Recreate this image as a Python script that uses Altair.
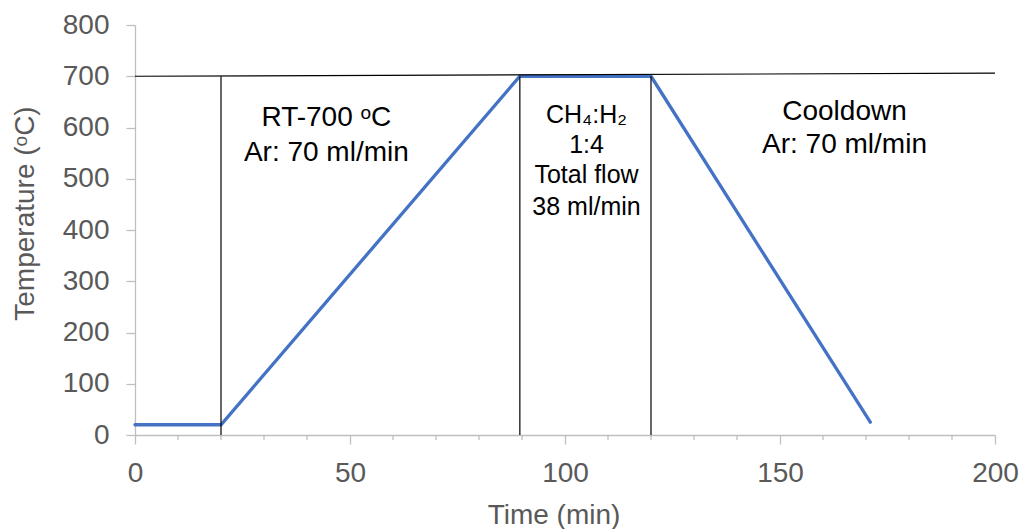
import altair as alt
import pandas as pd

# Temperature profile (blue line)
time_min = [0, 20, 89.5, 120, 171]
temp_c = [20, 20, 700, 700, 25]

# Black step boundaries (vertical lines)
step_x = [20, 89.5, 120]
step_y_low = [0, 0, 0]
step_y_high = [700, 700, 700]

# Black horizontal reference line at ~700
ref_x = [0, 200]
ref_y = [700, 706]

# Axis ticks
x_major = [0, 50, 100, 150, 200]
x_minor = [10, 20, 30, 40, 60, 70, 80, 90, 110, 120, 130, 140, 160, 170, 180, 190]
y_ticks = [0, 100, 200, 300, 400, 500, 600, 700, 800]

# Annotations
ann_text = ["RT-700 ᵒC", "Ar: 70 ml/min", "CH₄:H₂", "1:4", "Total flow", "38 ml/min",
            "Cooldown", "Ar: 70 ml/min"]
ann_x = [44.5, 44.5, 105, 105, 105, 105, 165, 165]
ann_y = [602, 535, 609, 551, 492, 429, 615, 550]
ann_size = [28, 28, 25, 25, 25, 25, 28, 28]

FONT = "Liberation Sans"
AXIS_GRAY = "#bfbfbf"
LABEL_GRAY = "#595959"

xscale = alt.Scale(domain=[0, 200], nice=False, zero=False)
yscale = alt.Scale(domain=[0, 800], nice=False)

profile = pd.DataFrame({"t": time_min, "T": temp_c})
steps = pd.DataFrame({"x": step_x, "y0": step_y_low, "y1": step_y_high})
ref = pd.DataFrame({"x": [ref_x[0]], "x2": [ref_x[1]], "y": [ref_y[0]], "y2": [ref_y[1]]})
minor = pd.DataFrame({"x": x_minor})
ann = pd.DataFrame({"text": ann_text, "x": ann_x, "y": ann_y, "size": ann_size})

x_axis = alt.Axis(values=x_major, title="Time (min)", tickSize=9, grid=False, labelFlush=False,
                  domainColor=AXIS_GRAY, tickColor=AXIS_GRAY, domainWidth=1.3, tickWidth=1.3,
                  labelFont=FONT, labelFontSize=28, labelColor=LABEL_GRAY, labelPadding=15,
                  titleFont=FONT, titleFontSize=28, titleColor=LABEL_GRAY, titleFontWeight="normal",
                  titleX=418.5, titleY=88, titleBaseline="alphabetic", titleAlign="center")
y_axis = alt.Axis(values=y_ticks, title="Temperature (ᵒC)", tickSize=9, grid=False, labelFlush=False,
                  domainColor=AXIS_GRAY, tickColor=AXIS_GRAY, domainWidth=1.3, tickWidth=1.3,
                  labelFont=FONT, labelFontSize=28, labelColor=LABEL_GRAY, labelPadding=17,
                  titleFont=FONT, titleFontSize=28, titleColor=LABEL_GRAY, titleFontWeight="normal",
                  titleX=-102, titleY=188, titleBaseline="alphabetic", titleAlign="center")

line = alt.Chart(profile).mark_line(color="#4472C4", strokeWidth=3.3, strokeCap="round").encode(
    x=alt.X("t:Q", scale=xscale, axis=x_axis),
    y=alt.Y("T:Q", scale=yscale, axis=y_axis),
    order=alt.Order("t:Q"),
)

step_rules = alt.Chart(steps).mark_rule(color="#000000", strokeWidth=1.2).encode(
    x=alt.X("x:Q", scale=xscale),
    y=alt.Y("y0:Q", scale=yscale),
    y2="y1:Q",
)

ref_rule = alt.Chart(ref).mark_rule(color="#000000", strokeWidth=1.2).encode(
    x=alt.X("x:Q", scale=xscale),
    x2="x2:Q",
    y=alt.Y("y:Q", scale=yscale),
    y2="y2:Q",
)

minor_ticks = alt.Chart(minor).mark_rule(color=AXIS_GRAY, strokeWidth=1.3).encode(
    x=alt.X("x:Q", scale=xscale),
    y=alt.value(410),
    y2=alt.value(415),
)

labels = alt.Chart(ann).mark_text(font=FONT, color="#000000", align="center",
                                  baseline="alphabetic").encode(
    x=alt.X("x:Q", scale=xscale),
    y=alt.Y("y:Q", scale=yscale),
    text="text:N",
    size=alt.Size("size:Q", scale=None, legend=None),
)

chart = alt.layer(line, minor_ticks, step_rules, ref_rule, labels).properties(
    width=860,
    height=410,
    padding={"left": 135, "top": 25, "right": 28, "bottom": 94},
    autosize=alt.AutoSizeParams(type="none"),
    background="white",
).configure_view(stroke=None)

chart.save("out.html", embed_options={"renderer": "svg", "actions": False})
